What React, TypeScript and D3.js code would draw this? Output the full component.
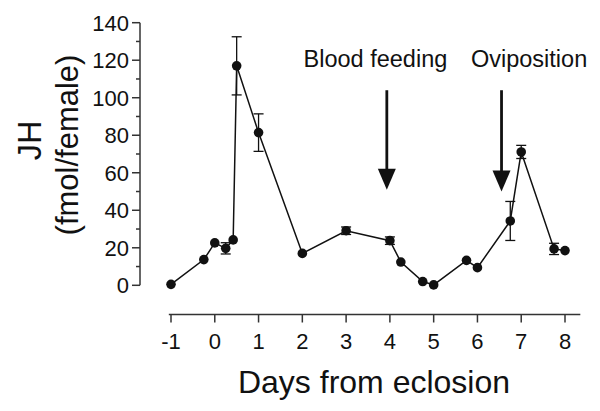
import React from "react";
import * as d3 from "d3";

const days = [-1, -0.25, 0, 0.25, 0.42, 0.5, 1, 2, 3, 4, 4.25, 4.75, 5, 5.75, 6, 6.75, 7, 7.75, 8];
const jhValues = [0.5, 13.7, 22.6, 19.7, 24.2, 117, 81.4, 17, 29.1, 23.8, 12.4, 2, 0.2, 13.3, 9.4, 34.3, 71.1, 19.4, 18.5];
const jhErrors = [0, 0, 0, 3, 0, 15.5, 10, 0, 2, 2, 0, 0, 0, 0, 0, 10.4, 3.5, 3, 0];

const xTicks = [-1, 0, 1, 2, 3, 4, 5, 6, 7, 8];
const yTicks = [0, 20, 40, 60, 80, 100, 120, 140];
const yMinorTicks = [10, 30, 50, 70, 90, 110, 130];

const eventLabels = ["Blood feeding", "Oviposition"];
const eventDays = [3.93, 6.55];
const eventLabelDays = [3.67, 7.18];
const arrowFrom = [104, 104];
const arrowTo = [51, 50];

const FONT = "'Liberation Sans', Arial, Helvetica, sans-serif";

export default function App() {
  const W = 600;
  const H = 411;
  const x = d3.scaleLinear().domain([-1, 8]).range([171, 565]);
  const y = d3.scaleLinear().domain([0, 140]).range([285.3, 22.7]);
  const axisY = 314.5;
  const axisX = 140;

  const pts = days.map((d, i) => ({ d, v: jhValues[i], e: jhErrors[i] }));
  const line = d3
    .line<{ d: number; v: number }>()
    .x((p) => x(p.d))
    .y((p) => y(p.v));

  const ink = "#111";
  const axisInk = "#333";

  return (
    <svg width={W} height={H} style={{ display: "block", position: "absolute", left: 0, top: 0 }} fontFamily={FONT}>
      <rect width={W} height={H} fill="#fff" />
      {/* Y axis */}
      <line x1={axisX} x2={axisX} y1={y(0)} y2={y(140)} stroke={axisInk} strokeWidth={1.5} />
      {yTicks.map((t) => (
        <g key={"yt" + t}>
          <line x1={axisX - 8} x2={axisX} y1={y(t)} y2={y(t)} stroke={axisInk} strokeWidth={1.5} />
          <text x={axisX - 11} y={y(t)} dy="0.36em" textAnchor="end" fontSize={22} fill={ink}>
            {t}
          </text>
        </g>
      ))}
      {yMinorTicks.map((t) => (
        <line key={"ym" + t} x1={axisX - 4} x2={axisX} y1={y(t)} y2={y(t)} stroke={axisInk} strokeWidth={1.5} />
      ))}
      {/* X axis */}
      <line x1={x(-1.05)} x2={x(8.35)} y1={axisY} y2={axisY} stroke={axisInk} strokeWidth={1.5} />
      {xTicks.map((t) => (
        <g key={"xt" + t}>
          <line x1={x(t)} x2={x(t)} y1={axisY} y2={axisY + 8} stroke={axisInk} strokeWidth={1.5} />
          <text x={x(t)} y={349} textAnchor="middle" fontSize={22} fill={ink}>
            {t}
          </text>
        </g>
      ))}
      <text x={374} y={393} textAnchor="middle" fontSize={32} fill={ink}>
        Days from eclosion
      </text>
      <text transform="translate(41,140.5) rotate(-90)" textAnchor="middle" fontSize={32.5} fill={ink}>
        JH
      </text>
      <text transform="translate(78,145) rotate(-90)" textAnchor="middle" fontSize={31} fill={ink}>
        (fmol/female)
      </text>

      {/* data line */}
      <path d={line(pts) || ""} fill="none" stroke={ink} strokeWidth={1.5} />
      {pts
        .filter((p) => p.e > 0)
        .map((p, i) => (
          <g key={"e" + i} stroke={ink} strokeWidth={1.3}>
            <line x1={x(p.d)} x2={x(p.d)} y1={y(p.v - p.e)} y2={y(p.v + p.e)} />
            <line x1={x(p.d) - 5} x2={x(p.d) + 5} y1={y(p.v - p.e)} y2={y(p.v - p.e)} />
            <line x1={x(p.d) - 5} x2={x(p.d) + 5} y1={y(p.v + p.e)} y2={y(p.v + p.e)} />
          </g>
        ))}
      {pts.map((p, i) => (
        <circle key={"c" + i} cx={x(p.d)} cy={y(p.v)} r={4.8} fill={ink} />
      ))}

      {/* annotations */}
      {eventLabels.map((lab, i) => {
        const ax = x(eventDays[i]);
        const top = y(arrowFrom[i]);
        const tip = y(arrowTo[i]);
        const headLen = 21;
        return (
          <g key={"a" + i}>
            <text x={x(eventLabelDays[i])} y={67} textAnchor="middle" fontSize={23.5} fill={ink}>
              {lab}
            </text>
            <line x1={ax} x2={ax} y1={top} y2={tip - headLen + 1} stroke={ink} strokeWidth={2.8} />
            <path d={`M${ax - 9},${tip - headLen} L${ax + 9},${tip - headLen} L${ax},${tip} Z`} fill={ink} />
          </g>
        );
      })}
    </svg>
  );
}
